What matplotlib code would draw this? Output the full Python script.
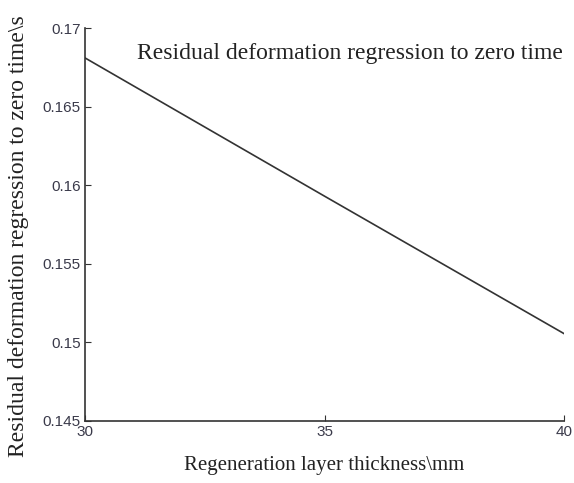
import matplotlib
matplotlib.use('Agg')
import matplotlib.pyplot as plt

thickness = [30, 35, 40]
residual_time = [0.1681, 0.1593, 0.15055]

xticks = [30, 35, 40]
yticks = [0.145, 0.15, 0.155, 0.16, 0.165, 0.17]
yticklabels = ['0.145', '0.15', '0.155', '0.16', '0.165', '0.17']

fig = plt.figure(figsize=(5.74, 4.83), dpi=100)
ax = fig.add_axes([0.148, 0.1284, 0.835, 0.8136])

ax.plot(thickness, residual_time, color='#333333', linewidth=1.2)
ax.set_xlim(30, 40)
ax.set_ylim(0.145, 0.17)

ax.spines['top'].set_visible(False)
ax.spines['right'].set_visible(False)
for s in ['left', 'bottom']:
	ax.spines[s].set_linewidth(1.2)
	ax.spines[s].set_color('#333333')

ax.set_xticks(xticks)
ax.set_yticks(yticks)
ax.set_yticklabels(yticklabels)
ax.tick_params(direction='in', length=4, labelsize=11, labelcolor='#3a3a4a', colors='#333333', pad=3)
for lab in ax.get_xticklabels() + ax.get_yticklabels():
	lab.set_family('Liberation Sans')

ax.set_xlabel('Regeneration layer thickness\\mm', family='Liberation Serif', fontsize=15, color='#222222')
ax.set_ylabel('Residual deformation regression to zero time\\s', family='Liberation Serif', fontsize=17, color='#222222')
# label positions (pixels -> axes fraction)
ax.xaxis.set_label_coords(0.5, -0.088)
ax.yaxis.set_label_coords(-0.117, 0.47)
ax.text(0.108, 0.935, 'Residual deformation regression to zero time', transform=ax.transAxes,
	family='Liberation Serif', fontsize=17, color='#222222', va='center', ha='left')

fig.savefig('out.png', dpi=100)
